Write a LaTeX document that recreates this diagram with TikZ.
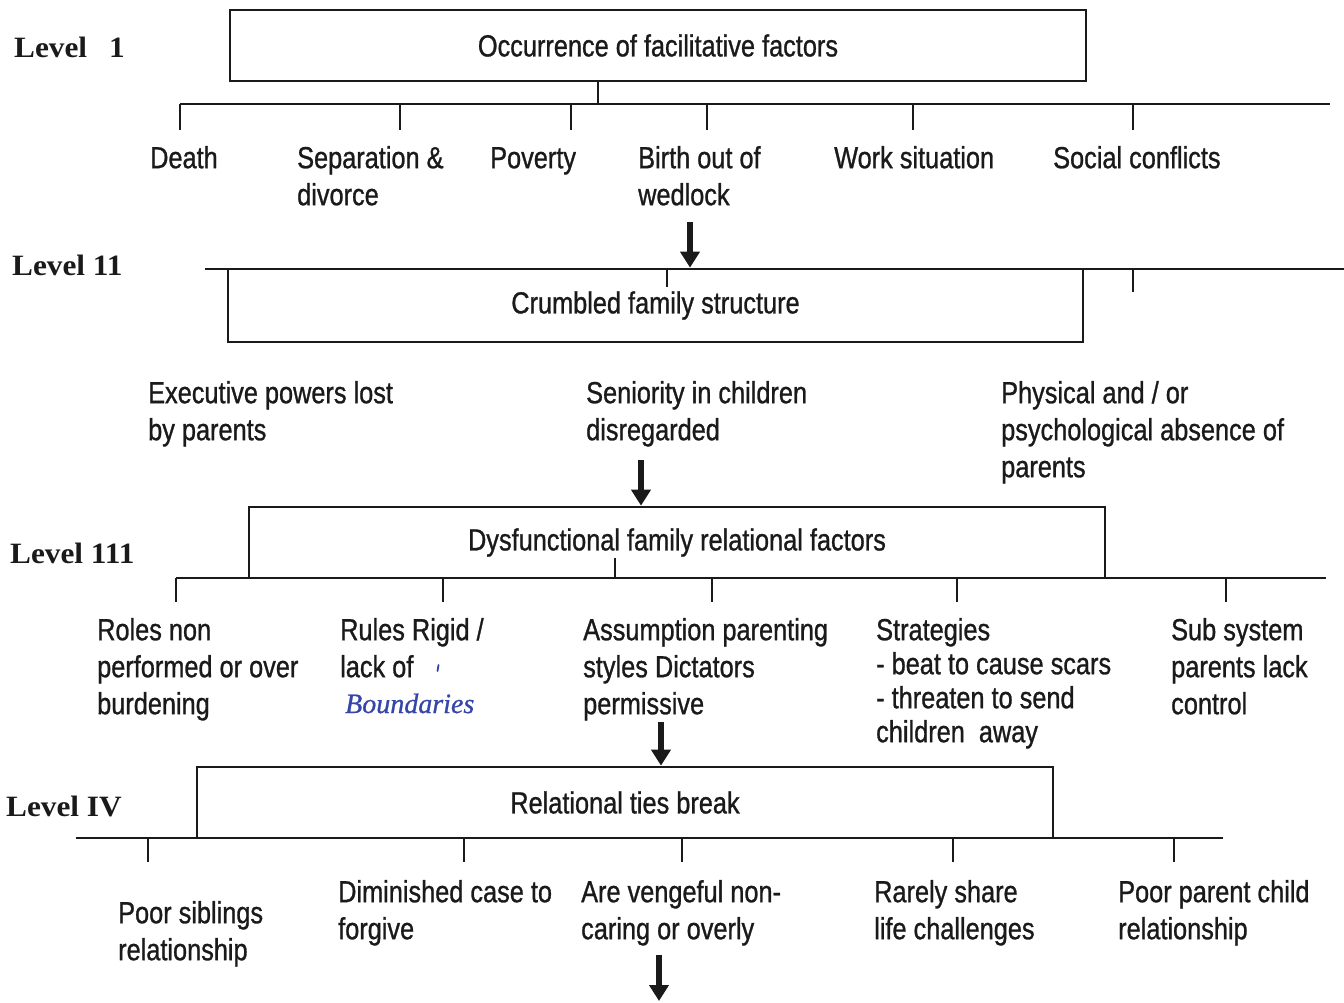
\documentclass[tikz,border=0pt]{standalone}
\usepackage{fontspec}
\setmainfont{Liberation Sans}[FakeStretch=0.83,FakeBold=0.9]
\newfontfamily\lvlfont{Liberation Serif}[FakeStretch=1.06]
\newfontfamily\handfont{Liberation Serif}[FakeBold=0.8]
\usetikzlibrary{arrows.meta}
\definecolor{ink}{HTML}{1A1A1A}
\definecolor{pen}{HTML}{3545A8}
\newcommand\itemstrut{\rule{0pt}{24pt}}
\newcommand\mainsize{\fontsize{30.5}{37}\selectfont}
\begin{document}
\begin{tikzpicture}[x=1pt,y=-1pt,
  every node/.style={text=ink},
  box/.style={draw=ink, line width=2.7pt, minimum height=71pt, inner sep=0pt, font=\mainsize},
  item/.style={anchor=north west, inner sep=0pt, align=left, font=\mainsize},
  lvl/.style={anchor=base west, inner sep=0pt, font=\lvlfont\bfseries\fontsize{29.5}{30}\selectfont},
  conn/.style={draw=ink, line width=2.8pt},
  bigarrow/.style={draw=ink, line width=6.5pt, -{Triangle[width=19pt,length=16pt]}}]
\fill[white] (0,0) rectangle (1344,1002);
\useasboundingbox (0,0) rectangle (1344,1002);

% ---------------- Level 1 ----------------
\node[lvl] (lv1) at (14,57) {Level\hspace{22pt}1};
\node[box, minimum width=856pt] (b1) at (658,45.5) {Occurrence of facilitative factors};
\coordinate (s1) at (598,104);
\draw[conn] (s1 |- b1.south) -- (s1);
\coordinate (bus1L) at (180,104);
\coordinate (bus1R) at (1330,104);
\draw[conn] (bus1L) -- (bus1R);
\foreach \x [count=\i] in {180,400,571,707,913,1133}{
  \coordinate (t1-\i) at (\x,104);
  \coordinate (u1-\i) at (\x,130);
  \draw[conn] (t1-\i) -- (u1-\i);
}
\node[item] (death) at (150,144) {\itemstrut Death};
\node[item] (sepa) at (297,144) {\itemstrut Separation \&\\divorce};
\node[item] (pov) at (490,144) {\itemstrut Poverty};
\node[item] (birth) at (638,144) {\itemstrut Birth out of\\wedlock};
\node[item] (work) at (834,144) {\itemstrut Work situation};
\node[item] (social) at (1053,144) {\itemstrut Social conflicts};

% ---------------- Level 11 ----------------
\node[lvl] (lv2) at (12,275) {Level 11};
\node[box, minimum width=855pt, minimum height=73pt] (b2) at (655.5,305.5) {Crumbled family structure};
\coordinate (bus2L) at (205,269);
\coordinate (bus2R) at (1344,269);
\draw[conn] (bus2L) -- (bus2R);
\coordinate (s2) at (667,287);
\draw[conn] (s2 |- b2.north) -- (s2);
\coordinate (t2) at (1133,269);
\coordinate (u2) at (1133,292);
\draw[conn] (t2) -- (u2);
\coordinate (a1) at (690,222);
\draw[bigarrow] (a1) -- (a1 |- b2.north);

\node[item] (exec) at (148,379) {\itemstrut Executive powers lost\\by parents};
\node[item] (senior) at (586,379) {\itemstrut Seniority in children\\disregarded};
\node[item] (phys) at (1001,379) {\itemstrut Physical and / or\\psychological absence of\\parents};

% ---------------- Level 111 ----------------
\node[lvl] (lv3) at (10,563) {Level 111};
\node[box, minimum width=856pt] (b3) at (677,542.5) {Dysfunctional family relational factors};
\coordinate (a2) at (641,460);
\draw[bigarrow] (a2) -- (a2 |- b3.north);
\coordinate (s3) at (615,558);
\draw[conn] (s3) -- (s3 |- b3.south);
\coordinate (bus3L) at (176,578);
\coordinate (bus3R) at (1326,578);
\draw[conn] (bus3L) -- (bus3R);
\foreach \x [count=\i] in {176,443,712,957,1226}{
  \coordinate (t3-\i) at (\x,578);
  \coordinate (u3-\i) at (\x,602);
  \draw[conn] (t3-\i) -- (u3-\i);
}
\node[item] (roles) at (97,616) {\itemstrut Roles non\\performed or over\\burdening};
\node[item] (rules) at (340,616) {\itemstrut Rules Rigid /\\lack of};
\node[inner sep=0pt, anchor=base west, text=pen, font=\handfont\itshape\fontsize{28}{30}\selectfont] (bound) at (345,713) {Boundaries};
\draw[pen, line width=1.8pt, line cap=round] (438.5,665) -- (437.5,671);
\node[item] (assum) at (583,616) {\itemstrut Assumption parenting\\styles Dictators\\permissive};
\node[item, font=\fontsize{30.5}{34}\selectfont] (strat) at (876,616) {\itemstrut Strategies\\- beat to cause scars\\- threaten to send\\children\ \ away};
\node[item] (subsys) at (1171,616) {\itemstrut Sub system\\parents lack\\control};

% ---------------- Level IV ----------------
\node[lvl] (lv4) at (6,816) {Level IV};
\node[box, minimum width=856pt] (b4) at (625,802.5) {Relational ties break};
\coordinate (a3) at (661,722);
\draw[bigarrow] (a3) -- (a3 |- b4.north);
\coordinate (bus4L) at (76,838);
\coordinate (bus4R) at (1223,838);
\draw[conn] (bus4L) -- (bus4R);
\foreach \x [count=\i] in {148,464,682,953,1174}{
  \coordinate (t4-\i) at (\x,838);
  \coordinate (u4-\i) at (\x,862);
  \draw[conn] (t4-\i) -- (u4-\i);
}
\node[item] (sib) at (118,899) {\itemstrut Poor siblings\\relationship};
\node[item] (dimin) at (338,878) {\itemstrut Diminished case to\\forgive};
\node[item] (veng) at (581,878) {\itemstrut Are vengeful non-\\caring or overly};
\node[item] (rare) at (874,878) {\itemstrut Rarely share\\life challenges};
\node[item] (ppc) at (1118,878) {\itemstrut Poor parent child\\relationship};
\coordinate (a4) at (659,955);
\coordinate (a4e) at (659,1001);
\draw[bigarrow] (a4) -- (a4e);
\end{tikzpicture}
\end{document}
